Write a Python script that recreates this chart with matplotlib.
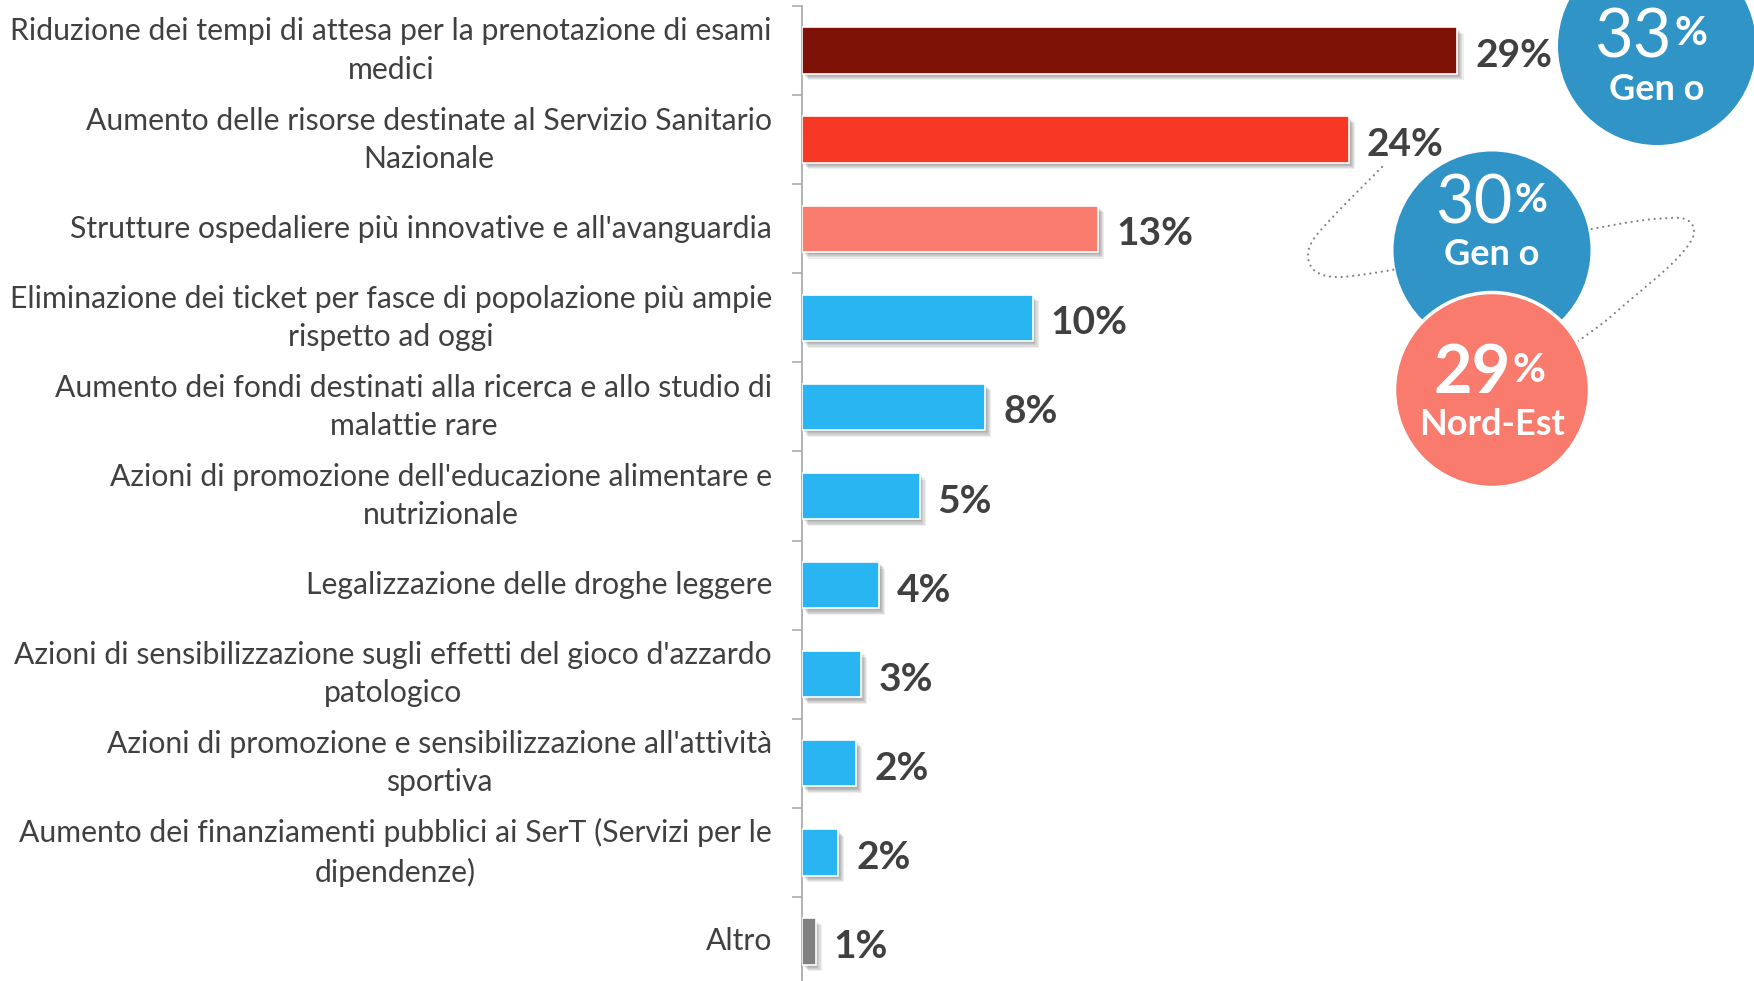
import numpy as np
import matplotlib
matplotlib.use("Agg")
import matplotlib.pyplot as plt
from matplotlib.patches import Circle
import matplotlib.patheffects as pe

plt.rcParams['font.family'] = ['Lato', 'DejaVu Sans']

# ---------------- data ----------------
categories = [
    "Riduzione dei tempi di attesa per la prenotazione di esami\nmedici",
    "Aumento delle risorse destinate al Servizio Sanitario\nNazionale",
    "Strutture ospedaliere più innovative e all'avanguardia",
    "Eliminazione dei ticket per fasce di popolazione più ampie\nrispetto ad oggi",
    "Aumento dei fondi destinati alla ricerca e allo studio di\nmalattie rare",
    "Azioni di promozione dell'educazione alimentare e\nnutrizionale",
    "Legalizzazione delle droghe leggere",
    "Azioni di sensibilizzazione sugli effetti del gioco d'azzardo\npatologico",
    "Azioni di promozione e sensibilizzazione all'attività\nsportiva",
    "Aumento dei finanziamenti pubblici ai SerT (Servizi per le\ndipendenze)",
    "Altro",
]
values = [29.0, 24.2, 13.1, 10.2, 8.1, 5.2, 3.4, 2.6, 2.4, 1.6, 0.6]
value_labels = ["29%", "24%", "13%", "10%", "8%", "5%", "4%", "3%", "2%", "2%", "1%"]

circle_values = ["33", "30", "29"]
circle_labels = ["Gen o", "Gen o", "Nord-Est"]

# ---------------- style ----------------
bar_colors = ["#7F1206", "#F63824", "#F97C6E"] + ["#29B5F1"] * 7 + ["#808080"]
circle_colors = ["#3194C7", "#3194C7", "#F87B6D"]
text_color = "#404040"
axis_color = "#A6A6A6"

W, H = 1754, 981
X0 = 802          # pixel x of the value axis
PX_PER_UNIT = 22.6

fig = plt.figure(figsize=(W / 100, H / 100), dpi=100)
ax = fig.add_axes([X0 / W, -5 / H, 1 - X0 / W, 980 / H])
ax.patch.set_alpha(0)

y = np.arange(len(categories))
bars = ax.barh(y, values, height=0.52, color=bar_colors, edgecolor="white",
               linewidth=1.2, zorder=3)
shadow = [pe.SimplePatchShadow(offset=(1.2 + 0.8 * k, -(1.6 + 0.8 * k)),
                               shadow_rgbFace="black", alpha=0.07) for k in range(5)]
shadow.append(pe.Normal())
for b in bars:
    b.set_path_effects(shadow)

ax.set_ylim(len(categories) - 0.5, -0.5)
ax.set_xlim(0, (W - X0) / PX_PER_UNIT)
for s in ["top", "right", "bottom"]:
    ax.spines[s].set_visible(False)
ax.spines["left"].set_color(axis_color)
ax.spines["left"].set_linewidth(1.2)
ax.set_xticks([])
ax.set_yticks(y, categories)
ax.set_yticks(np.arange(-0.5, len(categories), 1), minor=True)
ax.tick_params(axis="y", which="major", length=0, pad=21.6, labelsize=21.7,
               labelcolor=text_color)
ax.tick_params(axis="y", which="minor", length=7.2, width=1.1, color=axis_color)
for t in ax.get_yticklabels():
    t.set_multialignment("center")
    t.set_linespacing(1.44)
    t.set_verticalalignment("center")

for v, lab, yi in zip(values, value_labels, y):
    ax.annotate(lab, (v, yi), xytext=(13, -1.5), textcoords="offset points",
                ha="left", va="center_baseline", fontsize=28, fontweight="bold",
                color=text_color)

# ---------------- overlay (circles, dotted orbit) ----------------
ov = fig.add_axes([0, 0, 1, 1], zorder=5)
ov.set_xlim(0, W)
ov.set_ylim(H, 0)
ov.axis("off")


def smooth(pts, n=16):
    p = np.asarray(pts, float)
    p = np.vstack([2 * p[0] - p[1], p, 2 * p[-1] - p[-2]])
    out = []
    t = np.linspace(0, 1, n, endpoint=False)[:, None]
    for i in range(1, len(p) - 2):
        p0, p1, p2, p3 = p[i - 1], p[i], p[i + 1], p[i + 2]
        out.append(0.5 * (2 * p1 + (-p0 + p2) * t + (2 * p0 - 5 * p1 + 4 * p2 - p3) * t ** 2
                          + (-p0 + 3 * p1 - 3 * p2 + p3) * t ** 3))
    out.append(p[-2][None])
    return np.vstack(out)


arc_a = smooth([(1382, 167), (1356, 193), (1330, 220), (1313, 240), (1308, 255),
                (1312, 268), (1323, 275), (1340, 277), (1367, 274), (1398, 269)])
arc_b = smooth([(1586, 230), (1637, 221), (1670, 218), (1685, 219), (1693, 226),
                (1693, 237), (1683, 252), (1663, 272), (1630, 300), (1603, 323),
                (1570, 347)])
for arc in (arc_a, arc_b):
    ov.plot(arc[:, 0], arc[:, 1], color="#808080", lw=1.6,
            linestyle=(0, (0.01, 2.6)), dash_capstyle="round", zorder=1)

centers = [(1657, 46, 99), (1492, 250, 98.5), (1492, 390, 97.5)]
for (cx, cy, r), col, k in zip(centers, circle_colors, range(3)):
    ov.add_patch(Circle((cx, cy), r, facecolor=col,
                        edgecolor="white" if k == 2 else "none",
                        linewidth=2.5 if k == 2 else 0, zorder=2 + k))

# text in circles: (split x, digits baseline, % baseline, label baseline, digits weight)
circle_text = [(1672, 58, 45, 100, "normal"),
               (1512, 223, 212, 265, "normal"),
               (1511, 393, 382, 435, "bold")]
for (cx, cy, r), num, lab, (sx, db, pb, lb, wt), k in zip(centers, circle_values,
                                                          circle_labels, circle_text, range(3)):
    ov.text(sx, db, num, ha="right", va="baseline", fontsize=48, fontweight=wt,
            color="white", zorder=10)
    ov.text(sx + 2, pb, "%", ha="left", va="baseline", fontsize=29, fontweight="bold",
            color="white", zorder=10)
    ov.text(cx, lb, lab, ha="center", va="baseline", fontsize=26, fontweight="bold",
            color="white", zorder=10)

fig.savefig("out.png", dpi=100, facecolor="white")
